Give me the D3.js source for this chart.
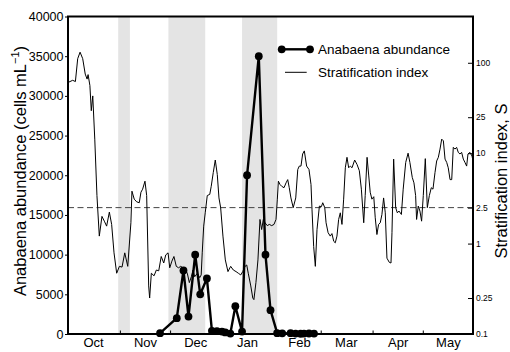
<!DOCTYPE html>
<html>
<head>
<meta charset="utf-8">
<script src="https://cdn.jsdelivr.net/npm/d3@7"></script>
<style>
  body { margin: 0; background: #fff; }
  svg { display: block; font-family: "Liberation Sans", Arial, Helvetica, sans-serif; }
</style>
</head>
<body>
<svg width="510" height="352"></svg>
<script>
// season runs Oct 1 .. May 31
var seasonStart = "2001-10-01";
var seasonEnd = "2002-05-31";
var monthLabels = ["Oct", "Nov", "Dec", "Jan", "Feb", "Mar", "Apr", "May"];

// shaded periods
var bandStarts = ["2001-10-31", "2001-11-30", "2002-01-13"];
var bandEnds = ["2001-11-07", "2001-12-22", "2002-02-03"];

// Anabaena abundance, cells per mL
var anaDates = ["2001-11-25", "2001-12-05", "2001-12-09", "2001-12-12", "2001-12-16", "2001-12-19",
  "2001-12-23", "2001-12-26", "2001-12-29", "2002-01-01", "2002-01-03", "2002-01-06", "2002-01-09",
  "2002-01-13", "2002-01-16", "2002-01-23", "2002-01-27", "2002-01-30", "2002-02-03", "2002-02-06",
  "2002-02-11", "2002-02-14", "2002-02-17", "2002-02-19", "2002-02-22", "2002-02-25"];
var anaCells = [100, 2000, 8000, 2200, 10000, 5000,
  7000, 400, 350, 300, 200, 50, 3500,
  300, 20000, 35000, 10000, 3000, 100, 80,
  100, 50, 30, 50, 60, 50];

// stratification index: day since Oct 1, value of S
var stratDay = [0.4, 2.8, 4.4, 5.8, 7.2, 8.8, 10.3, 11.4, 12.0, 13.1, 13.9, 14.8, 16.0, 17.3, 18.7,
  20.3, 21.7, 23.1, 24.7, 26.1, 27.5, 29.1, 30.7, 32.3, 33.9, 35.7, 37.6, 38.2, 39.6, 41.0, 42.6,
  43.6, 44.6, 46.0, 47.0, 48.2, 48.8, 49.8, 51.4, 52.8, 54.2, 55.7, 57.2, 58.4, 59.8, 60.8, 62.1,
  63.3, 64.7, 66.1, 67.3, 68.7, 70.1, 71.3, 72.5, 73.7, 74.7, 75.7, 77.3, 78.7, 79.6, 80.2, 81.1,
  82.0, 83.2, 84.7, 85.6, 86.8, 88.0, 89.2, 90.2, 91.2, 92.6, 94.0, 95.6, 97.2, 98.8, 100.4, 101.8,
  103.2, 104.4, 105.8, 106.8, 107.7, 109.2, 110.4, 111.1, 112.3, 113.5, 114.7, 115.7, 116.7, 117.7,
  119.1, 120.3, 121.7, 123.1, 124.3, 125.1, 125.7, 126.7, 127.7, 129.1, 130.3, 131.3, 132.2, 133.2,
  134.6, 136.1, 137.3, 138.2, 139.2, 140.2, 141.2, 142.6, 144.0, 145.2, 145.8, 146.8, 147.8, 148.8,
  150.2, 151.4, 152.2, 153.4, 154.2, 155.4, 156.7, 157.7, 158.8, 159.7, 160.7, 161.7, 162.7, 163.7,
  164.7, 165.7, 166.7, 167.7, 168.7, 169.7, 171.3, 172.7, 174.1, 175.3, 176.7, 177.6, 178.7, 179.7,
  180.6, 181.6, 182.7, 183.6, 184.6, 185.6, 186.6, 187.6, 188.6, 189.6, 190.6, 192.0, 193.0, 193.6,
  194.6, 195.8, 196.8, 197.8, 199.2, 200.3, 201.8, 203.2, 204.3, 205.7, 206.7, 207.7, 208.3, 209.3,
  210.3, 211.3, 212.3, 213.5, 214.7, 215.9, 217.1, 218.1, 219.3, 220.3, 221.3, 222.3, 223.3, 224.3,
  225.3, 226.3, 227.2, 228.3, 229.3, 230.2, 231.2, 232.2, 233.2, 234.2, 235.2, 236.2, 237.2, 238.2,
  239.0, 240.2, 241.4, 242.0];
var stratS = [61, 64, 62, 111, 131, 111, 75, 66, 74, 56, 29.5, 43, 14.3, 3.4, 1.21,
  2.0, 1.77, 1.56, 2.23, 1.63, 0.79, 0.47, 0.56, 0.55, 0.79, 0.56, 1.7, 3.8, 3.1, 2.9, 2.83,
  3.7, 4.0, 4.9, 3.4, 0.34, 0.25, 0.47, 0.44, 0.51, 0.5, 0.72, 0.61, 0.75, 0.79, 0.54, 0.64,
  0.72, 0.56, 0.54, 0.56, 0.54, 0.51, 0.47, 0.37, 0.43, 0.51, 0.43, 0.47, 0.42, 0.45, 0.79, 1.56,
  2.19, 3.4, 3.5, 4.3, 6.1, 8.4, 5.8, 3.2, 2.5, 1.21, 0.66, 0.49, 0.56, 0.51, 0.49, 0.47,
  0.45, 0.49, 0.56, 0.58, 0.47, 0.34, 0.25, 0.24, 0.37, 0.66, 1.85, 1.43, 1.85, 1.7,
  1.58, 1.63, 1.58, 1.63, 1.85, 3.1, 4.9, 4.5, 4.3, 4.15, 4.7, 5.1, 4.15, 3.2,
  2.5, 3.2, 6.6, 7.2, 7.2, 9.8, 10.6, 7.2, 6.6, 4.5, 2.4, 0.93, 0.56, 1.43,
  2.6, 2.56, 2.83, 2.5, 1.7, 1.32, 1.21, 1.29, 1.06, 1.02, 1.21, 1.85, 2.19, 1.63,
  3.1, 6.9, 9.0, 6.9, 7.2, 6.9, 8.4, 7.5, 6.4, 4.0, 1.7, 3.4, 9.0, 5.6,
  3.7, 3.1, 3.3, 1.93, 1.26, 1.63, 1.7, 2.1, 3.2, 2.19, 0.69, 0.62, 0.61, 1.32,
  8.6, 2.5, 2.19, 2.29, 2.1, 4.0, 7.9, 10, 7.9, 5.4, 4.7, 3.4, 1.85, 2.6,
  2.29, 1.77, 3.4, 8.7, 2.5, 3.4, 4.15, 4.0, 6.1, 8.2, 9.0, 11.1, 14.3, 13.7,
  8.6, 7.9, 6.9, 5.1, 5.1, 11.6, 11.1, 11.6, 10.2, 9.8, 10.2, 8.6, 7.9, 7.2,
  9.8, 10.2, 9.3, 8.2];

var leftTicks = [0, 5000, 10000, 15000, 20000, 25000, 30000, 35000, 40000];
var rightTicks = [0.1, 0.25, 1, 2.5, 10, 25, 100];
var threshold = 2.5;

var parse = d3.timeParse("%Y-%m-%d");
var t0 = parse(seasonStart), t1 = parse(seasonEnd);

var x0 = 68, x1 = 473, y0 = 16.5, y1 = 334;

var xs = d3.scaleTime().domain([t0, t1]).range([x0, x1]);
var ya = d3.scaleLinear().domain([0, 40000]).range([y1, y0]);
var ys = d3.scaleLog().domain([0.1, 325]).range([y1, y0]);

var svg = d3.select("svg");

// shaded periods
svg.append("g").selectAll("rect").data(bandStarts).enter().append("rect")
  .attr("x", function(d) { return xs(parse(d)); })
  .attr("y", y0)
  .attr("width", function(d, i) { return xs(parse(bandEnds[i])) - xs(parse(d)); })
  .attr("height", y1 - y0)
  .attr("fill", "#e4e4e4");

// threshold line
svg.append("line")
  .attr("x1", x0).attr("x2", x1)
  .attr("y1", ys(threshold)).attr("y2", ys(threshold))
  .attr("stroke", "#444").attr("stroke-width", 1)
  .attr("stroke-dasharray", "6,3.5");

// stratification index
var strat = stratDay.map(function(d, i) { return [d3.timeHour.offset(t0, Math.round(d * 24)), stratS[i]]; });
svg.append("path")
  .datum(strat)
  .attr("fill", "none").attr("stroke", "#000").attr("stroke-width", 1)
  .attr("stroke-linejoin", "round")
  .attr("d", d3.line().x(function(d) { return xs(d[0]); }).y(function(d) { return ys(d[1]); }));

// anabaena
var ana = anaDates.map(function(d, i) { return [parse(d), anaCells[i]]; });
svg.append("path")
  .datum(ana)
  .attr("fill", "none").attr("stroke", "#000").attr("stroke-width", 2.4)
  .attr("stroke-linejoin", "round")
  .attr("d", d3.line().x(function(d) { return xs(d[0]); }).y(function(d) { return ya(d[1]); }));
svg.append("g").selectAll("circle").data(ana).enter().append("circle")
  .attr("cx", function(d) { return xs(d[0]); })
  .attr("cy", function(d) { return ya(d[1]); })
  .attr("r", 3.9)
  .attr("fill", "#000");

// axes
var gLeft = svg.append("g")
  .attr("transform", "translate(" + x0 + ",0)")
  .call(d3.axisLeft(ya).tickValues(leftTicks).tickSize(3).tickPadding(1.5).tickFormat(d3.format("d")));
gLeft.selectAll("text").attr("font-size", 12.5).attr("fill", "#000");

var gRight = svg.append("g")
  .attr("transform", "translate(" + x1 + ",0)")
  .call(d3.axisRight(ys).tickValues(rightTicks).tickSize(-5).tickPadding(3).tickFormat(function(d) { return String(d); }));
gRight.selectAll("text").attr("font-size", 8.5).attr("fill", "#000");

var monthStarts = d3.timeMonth.range(d3.timeMonth.offset(t0, 1), t1);
svg.append("g")
  .attr("transform", "translate(0," + y1 + ")")
  .call(d3.axisBottom(xs).tickValues(monthStarts).tickSize(-3.5).tickFormat(""));

var monthMids = d3.timeMonth.range(t0, t1).map(function(m) { return d3.timeDay.offset(m, 15); });
var gMonths = svg.append("g")
  .attr("transform", "translate(0," + y1 + ")")
  .call(d3.axisBottom(xs).tickValues(monthMids).tickSize(0).tickPadding(4)
    .tickFormat(function(d, i) { return monthLabels[i]; }));
gMonths.selectAll("text").attr("font-size", 13).attr("fill", "#000");

svg.selectAll("g[font-family]").attr("font-family", null);
svg.selectAll(".domain").remove();
svg.selectAll(".tick line").attr("stroke", "#000");

// frame
svg.append("rect")
  .attr("x", x0).attr("y", y0)
  .attr("width", x1 - x0).attr("height", y1 - y0)
  .attr("fill", "none").attr("stroke", "#000").attr("stroke-width", 2);

// axis titles
var yl = svg.append("text")
  .attr("transform", "translate(26,171) rotate(-90)")
  .attr("text-anchor", "middle").attr("font-size", 16.5);
yl.append("tspan").text("Anabaena abundance  (cells mL");
yl.append("tspan").attr("font-size", 11).attr("dy", -7).text("\u22121");
yl.append("tspan").attr("dy", 7).text(")");

svg.append("text")
  .attr("transform", "translate(507,181) rotate(-90)")
  .attr("text-anchor", "middle").attr("font-size", 16.5)
  .text("Stratification index,  S");

// legend
var lg = svg.append("g");
lg.append("line").attr("x1", 281.7).attr("x2", 310).attr("y1", 49.3).attr("y2", 49.3)
  .attr("stroke", "#000").attr("stroke-width", 2.4);
lg.selectAll("circle").data([281.7, 310]).enter().append("circle")
  .attr("cx", function(d) { return d; }).attr("cy", 49.3).attr("r", 3.9).attr("fill", "#000");
lg.append("text").attr("x", 318).attr("y", 49.3).attr("dy", "0.35em")
  .attr("font-size", 13.5).text("Anabaena abundance");
lg.append("line").attr("x1", 285).attr("x2", 306.7).attr("y1", 72.3).attr("y2", 72.3)
  .attr("stroke", "#000").attr("stroke-width", 1);
lg.append("text").attr("x", 318).attr("y", 72.3).attr("dy", "0.35em")
  .attr("font-size", 13.5).text("Stratification index");
</script>
</body>
</html>
